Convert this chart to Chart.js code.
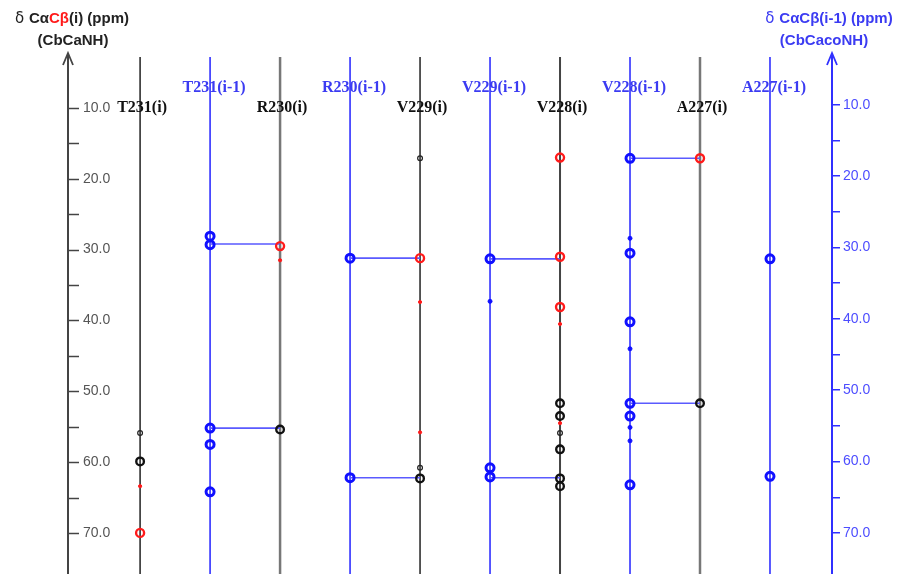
<!DOCTYPE html>
<html>
<head>
<meta charset="utf-8">
<script src="https://cdn.jsdelivr.net/npm/chart.js@4.4.1/dist/chart.umd.min.js"></script>
<style>
  html, body { margin: 0; padding: 0; background: #fff; }
  #wrap { width: 899px; height: 574px; }
</style>
</head>
<body>
<div id="wrap"><canvas id="strips" width="899" height="574"></canvas></div>
<script>
// strips, left to right
const strips = ['T231(i)', 'T231(i-1)', 'R230(i)', 'R230(i-1)', 'V229(i)', 'V229(i-1)', 'V228(i)', 'V228(i-1)', 'A227(i)', 'A227(i-1)'];

// peaks: [strip index, ppm]
const blackPeaks = [[0, 59.9], [2, 55.4], [4, 62.3], [6, 51.7], [6, 53.5], [6, 58.2], [6, 62.3], [6, 63.4], [8, 51.7]];
const blackWeak = [[0, 55.9], [4, 17.1], [4, 60.8], [6, 55.9]];
const redPeaks = [[0, 70.0], [2, 29.5], [4, 31.2], [6, 17.0], [6, 31.0], [6, 38.1], [8, 17.1]];
const redWeak = [[0, 63.4], [2, 31.5], [4, 37.4], [4, 55.8], [6, 40.5], [6, 54.5]];
const bluePeaks = [[1, 28.1], [1, 29.3], [1, 55.2], [1, 57.5], [1, 64.2], [3, 31.2], [3, 62.2],
  [5, 31.3], [5, 60.8], [5, 62.1], [7, 17.1], [7, 30.5], [7, 40.2], [7, 51.7], [7, 53.5], [7, 63.2],
  [9, 31.3], [9, 62.0]];
const blueWeak = [[5, 37.3], [7, 28.4], [7, 44.0], [7, 55.1], [7, 57.0]];

// sequential walk: [from strip, to strip, ppm]
const links = [[1, 2, 29.2], [1, 2, 55.2], [3, 4, 31.2], [3, 4, 62.2], [5, 6, 31.3], [5, 6, 62.2], [7, 8, 17.1], [7, 8, 51.7]];

// ppm ranges of the two axes, labelled ticks
const ppmLeft = [2.8, 75.8];
const ppmRight = [3.3, 75.75];
const tickLabels = [10, 20, 30, 40, 50, 60, 70];

const BLUE = '#3030ff';
const BLUE_TXT = '#3b3bf2';

function pts(list) {
    return list.map(p => ({ x: p[0], y: p[1] }));
}

function stripStyle(i) {
    if (i % 2 === 1) return { color: BLUE, width: 1.6 };
    if (i === 2 || i === 8) return { color: '#777', width: 2.5 };
    if (i === 6) return { color: '#444', width: 2 };
    return { color: '#222', width: 1.5 };
}

const datasets = [];

strips.forEach((name, i) => {
    const st = stripStyle(i);
    datasets.push({
        label: name,
        data: [{ x: i, y: ppmLeft[0] }, { x: i, y: ppmLeft[1] }],
        showLine: true,
        borderColor: st.color,
        borderWidth: st.width,
        pointRadius: 0,
        order: 3
    });
});

const linkData = [];
links.forEach(l => {
    linkData.push({ x: l[0], y: l[2] }, { x: l[1], y: l[2] }, { x: null, y: null });
});
datasets.push({
    label: 'walk',
    data: linkData,
    showLine: true,
    spanGaps: false,
    borderColor: '#5a5aff',
    borderWidth: 1.6,
    pointRadius: 0,
    order: 2
});

function peakSet(list, color, radius, bw, fill) {
    return {
        data: pts(list),
        showLine: false,
        pointStyle: 'circle',
        pointRadius: radius,
        pointBorderWidth: bw,
        pointBorderColor: color,
        pointBackgroundColor: fill ? color : 'rgba(255,255,255,0)',
        order: 0
    };
}
datasets.push(peakSet(bluePeaks, '#1010ff', 4, 3, false));
datasets.push(peakSet(blueWeak, '#1010ff', 2, 1, true));
datasets.push(peakSet(redPeaks, '#ff1a1a', 4, 2.4, false));
datasets.push(peakSet(redWeak, '#ff1a1a', 1.6, 1, true));
datasets.push(peakSet(blackPeaks, '#111', 3.8, 2.4, false));
datasets.push(peakSet(blackWeak, '#222', 2.4, 1.2, false));

function keepTicks(s) {
    s.ticks = s.ticks.filter(t => t.value >= tickLabels[0] && t.value <= tickLabels[tickLabels.length - 1]);
}
function fmt(v) {
    return tickLabels.includes(v) ? v.toFixed(1) : '';
}

const decor = {
    id: 'decor',
    afterDraw(chart) {
        const ctx = chart.ctx;
        const area = chart.chartArea;
        const yL = chart.scales.y;
        const yR = chart.scales.y2;
        const x = chart.scales.x;
        ctx.save();

        // inward tick marks on the left axis
        ctx.strokeStyle = '#444';
        ctx.lineWidth = 1.5;
        yL.ticks.forEach(t => {
            const py = Math.round(yL.getPixelForValue(t.value)) + 0.5;
            ctx.beginPath();
            ctx.moveTo(yL.right, py);
            ctx.lineTo(yL.right + 11, py);
            ctx.stroke();
        });

        // arrow heads
        function arrow(ax, color) {
            ctx.strokeStyle = color;
            ctx.lineWidth = 1.8;
            ctx.beginPath();
            ctx.moveTo(ax, area.top + 1);
            ctx.lineTo(ax, area.top - 4);
            ctx.moveTo(ax - 5, area.top + 8);
            ctx.lineTo(ax, area.top - 4);
            ctx.lineTo(ax + 5, area.top + 8);
            ctx.stroke();
        }
        arrow(yL.right, '#444');
        arrow(yR.left, BLUE);

        // axis titles
        function parts(segs, cx, cy) {
            let total = 0;
            segs.forEach(s => { ctx.font = s[2]; total += ctx.measureText(s[0]).width; });
            let px = cx - total / 2;
            ctx.textAlign = 'left';
            ctx.textBaseline = 'middle';
            segs.forEach(s => {
                ctx.font = s[2];
                ctx.fillStyle = s[1];
                ctx.fillText(s[0], px, cy);
                px += ctx.measureText(s[0]).width;
            });
        }
        const bold = 'bold 15px "Liberation Sans", Arial, sans-serif';
        const thin = '15px "DejaVu Sans", sans-serif';
        parts([['δ ', '#222', thin], ['Cα', '#222', bold], ['Cβ', '#ff1a1a', bold], ['(i) (ppm)', '#222', bold]], yL.right + 4, 19);
        parts([['(CbCaNH)', '#222', bold]], yL.right + 5, 41);
        parts([['δ ', BLUE_TXT, thin], ['CαCβ(i-1) (ppm)', BLUE_TXT, bold]], yR.left - 3, 19);
        parts([['(CbCacoNH)', BLUE_TXT, bold]], yR.left - 8, 41);

        // strip labels
        ctx.font = 'bold 16px "Liberation Serif", "Times New Roman", serif';
        ctx.textAlign = 'center';
        ctx.textBaseline = 'middle';
        strips.forEach((name, i) => {
            const px = x.getPixelForValue(i);
            if (i % 2 === 1) {
                ctx.fillStyle = BLUE_TXT;
                ctx.fillText(name, px + 4, 88);
            } else {
                ctx.fillStyle = '#111';
                ctx.fillText(name, px + 2, 108);
            }
        });
        ctx.restore();
    }
};

new Chart(document.getElementById('strips'), {
    type: 'scatter',
    data: { datasets: datasets },
    options: {
        responsive: false,
        animation: false,
        layout: { autoPadding: false, padding: { top: 57, left: 0, right: 0, bottom: 0 } },
        plugins: { legend: { display: false }, tooltip: { enabled: false } },
        scales: {
            x: { type: 'linear', min: -1.03, max: 9.886, display: false },
            y: {
                type: 'linear',
                position: 'left',
                reverse: true,
                min: ppmLeft[0],
                max: ppmLeft[1],
                afterBuildTicks: keepTicks,
                afterFit: s => { s.width = 68; s.paddingTop = 0; s.paddingBottom = 0; },
                ticks: {
                    stepSize: 5,
                    includeBounds: false,
                    mirror: true,
                    padding: 15,
                    color: '#555',
                    font: { family: '"Liberation Sans", Arial, sans-serif', size: 14 },
                    callback: fmt
                },
                grid: { drawOnChartArea: false, drawTicks: false },
                border: { color: '#444', width: 2 }
            },
            y2: {
                type: 'linear',
                position: 'right',
                reverse: true,
                min: ppmRight[0],
                max: ppmRight[1],
                afterBuildTicks: keepTicks,
                afterFit: s => { s.width = 67; s.paddingTop = 0; s.paddingBottom = 0; },
                ticks: {
                    stepSize: 5,
                    includeBounds: false,
                    padding: 3,
                    color: '#4d4dff',
                    font: { family: '"Liberation Sans", Arial, sans-serif', size: 14 },
                    callback: fmt
                },
                grid: { drawOnChartArea: false, tickLength: 8, color: BLUE, lineWidth: 1.5 },
                border: { color: BLUE, width: 2 }
            }
        }
    },
    plugins: [decor]
});
</script>
</body>
</html>
